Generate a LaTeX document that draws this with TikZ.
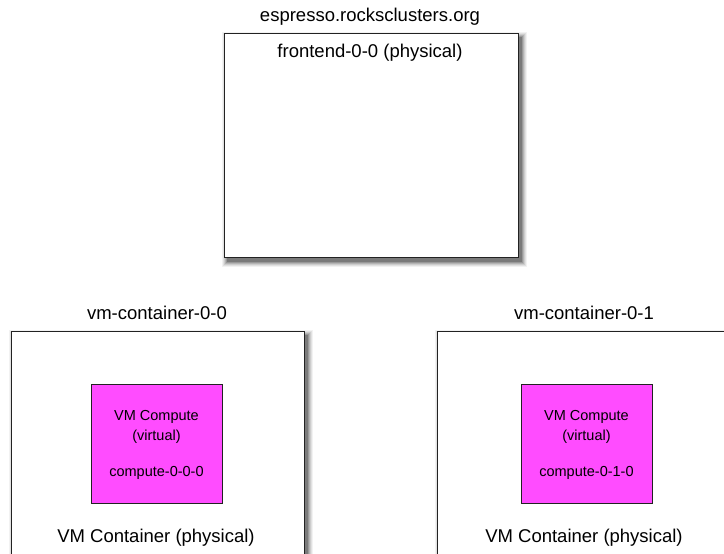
\documentclass[tikz,border=0pt]{standalone}
\usepackage{fontspec}
\setmainfont{Liberation Sans}
\usetikzlibrary{backgrounds,calc}
\definecolor{vmmag}{HTML}{FF4CFF}
\definecolor{boxline}{HTML}{222222}
\tikzset{
  hostbox/.style={draw=boxline, line width=1.1pt, fill=white, rectangle, inner sep=0pt, anchor=south west},
  vmbox/.style={draw=boxline, line width=0.9pt, fill=vmmag, rectangle, inner sep=0pt, anchor=south west},
  bigtxt/.style={font=\fontsize{18.5}{21}\selectfont, text=black, inner sep=0pt},
  smalltxt/.style={font=\fontsize{14.5}{17}\selectfont, text=black, inner sep=0pt},
}
\newcommand{\softshade}[1]{%
  \begin{scope}[on background layer]
    \foreach \e/\o in {5/0.05,4/0.07,3/0.09,2/0.12,1/0.15,0/0.2}{
      \fill[black, opacity=\o] ($(#1.south west)+(3-\e,-4-\e)$) rectangle ($(#1.north east)+(3+\e,-4+\e)$);
    }
  \end{scope}}
\begin{document}
\begin{tikzpicture}[x=1pt,y=1pt]
\useasboundingbox (0,0) rectangle (724,554);
\clip (0,0) rectangle (724,554);

% frontend
\node[hostbox, minimum width=294pt, minimum height=224pt] (fe) at (224,296) {};
\softshade{fe}
\node[bigtxt] (fetitle) at (370,537) {espresso.rocksclusters.org};
\node[bigtxt] (felabel) at (370,501) {frontend-0-0 (physical)};

% left container
\node[hostbox, minimum width=293pt, minimum height=240pt] (c0) at (11,-18) {};
\softshade{c0}
\node[bigtxt] (c0title) at (157,241) {vm-container-0-0};
\node[bigtxt] (c0label) at (156,16) {VM Container (physical)};
\node[vmbox, minimum width=131pt, minimum height=119pt] (v0) at (91,50) {};
\node[smalltxt] (v0a) at (156.5,137) {VM Compute};
\node[smalltxt] (v0b) at (156.5,117) {(virtual)};
\node[smalltxt] (v0c) at (156.5,81) {compute-0-0-0};

% right container
\node[hostbox, minimum width=294pt, minimum height=240pt] (c1) at (437,-18) {};
\softshade{c1}
\node[bigtxt] (c1title) at (584,241) {vm-container-0-1};
\node[bigtxt] (c1label) at (584,16) {VM Container (physical)};
\node[vmbox, minimum width=131pt, minimum height=119pt] (v1) at (521,50) {};
\node[smalltxt] (v1a) at (586.5,137) {VM Compute};
\node[smalltxt] (v1b) at (586.5,117) {(virtual)};
\node[smalltxt] (v1c) at (586.5,81) {compute-0-1-0};
\end{tikzpicture}
\end{document}
